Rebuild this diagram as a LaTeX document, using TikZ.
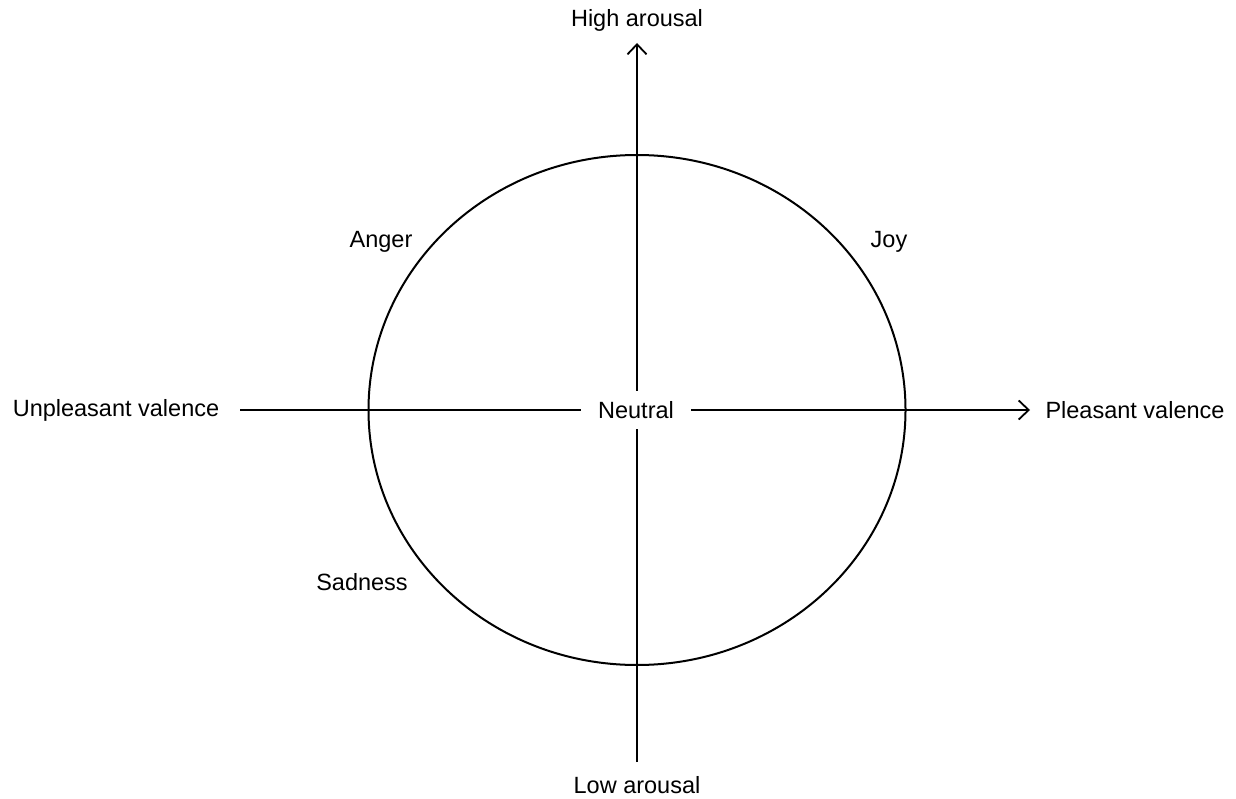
\documentclass[tikz,border=0pt]{standalone}
\usepackage{fontspec}
\setmainfont{Liberation Sans}
\usetikzlibrary{arrows.meta}
\begin{document}
\begin{tikzpicture}[x=1pt,y=-1pt,
  axis/.style={line width=2pt,draw=black},
  arr/.style={-{Straight Barb[length=10pt,width=19pt,line width=1.8pt]}},
  lbl/.style={font=\fontsize{23.5}{28}\selectfont,inner sep=0pt,text=black}]
\useasboundingbox (0,0) rectangle (1236,799);
% circumplex ellipse
\draw[line width=2pt] (637,410) ellipse [x radius=268.5, y radius=255];
% axis end points
\coordinate (top) at (637,43);
\coordinate (bot) at (637,762);
\coordinate (lft) at (240,410);
\coordinate (rgt) at (1030,410);
\draw[axis,arr] (bot) -- (top);
\draw[axis,arr] (lft) -- (rgt);
% labels
\node[lbl,fill=white,inner xsep=17pt,inner ysep=10pt] (neutral) at (636,410) {Neutral};
\node[lbl] (high) at (637,20) {High arousal};
\node[lbl] (low) at (637,785) {Low arousal};
\node[lbl] (unpl) at (116,410) {Unpleasant valence};
\node[lbl] (pleas) at (1135,410) {Pleasant valence};
\node[lbl] (anger) at (381,242) {Anger};
\node[lbl] (joy) at (889,242) {Joy};
\node[lbl] (sad) at (362,582) {Sadness};
\end{tikzpicture}
\end{document}
